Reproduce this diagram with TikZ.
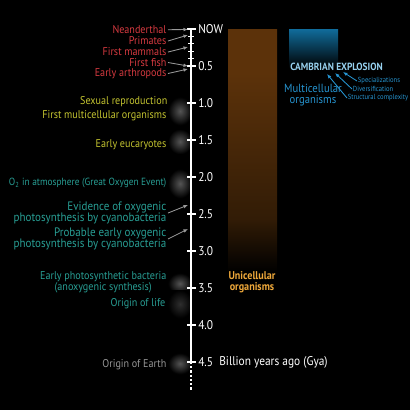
\documentclass[tikz,border=0pt]{standalone}
\usepackage{fontspec}
\setmainfont{PT Sans}[FakeStretch=0.9]
\usepackage{tikz}
\usetikzlibrary{arrows.meta,positioning}
\definecolor{evred}{RGB}{214,58,64}
\definecolor{evyellow}{RGB}{196,196,48}
\definecolor{evteal}{RGB}{40,158,148}
\definecolor{evgray}{RGB}{150,150,150}
\definecolor{evorange}{RGB}{238,168,58}
\definecolor{evbrown}{RGB}{92,50,10}
\definecolor{evbrownlow}{RGB}{50,28,6}
\definecolor{evblue}{RGB}{38,148,208}
\definecolor{evlight}{RGB}{150,208,238}
\definecolor{evdeep}{RGB}{16,108,155}
\pgfdeclareverticalshading{unibar}{100bp}{color(0bp)=(black); color(25bp)=(black); color(36bp)=(evbrownlow); color(66bp)=(evbrown); color(100bp)=(evbrown)}
\tikzset{
  evlab/.style={anchor=east, inner sep=1pt, align=right, font=\fontsize{8}{7.8}\selectfont},
  biglab/.style={evlab, font=\fontsize{8.7}{8.4}\selectfont},
  ticklab/.style={anchor=west, inner sep=0pt, text=white, font=\fontsize{9}{10}\selectfont},
  smalllab/.style={anchor=west, inner sep=0.5pt, text=evblue, font=\fontsize{5.2}{6}\selectfont},
  evarr/.style={-{Latex[length=3.2pt,width=2.6pt]}, draw=gray!80, line width=0.6pt},
  bluearr/.style={-{Latex[length=3.2pt,width=2.6pt]}, draw=evblue, line width=0.6pt},
  smoke/.style={inner color=white!33!black, outer color=black}
}

\begin{document}
\begin{tikzpicture}[x=0.025cm, y=-0.025cm]
\fill[black] (0,0) rectangle (410,410);
% hazy bands beside the time axis
\shade[smoke] (168,97) rectangle (192,125);
\shade[smoke] (168,129) rectangle (192,154);
\shade[smoke] (168,169) rectangle (192,198);
\shade[smoke] (168,273) rectangle (192,294);
\shade[smoke, inner color=white!18!black] (168,290) rectangle (192,318);
\shade[smoke] (168,353) rectangle (192,374);
% life bars
\shade[shading=unibar] (228,29) rectangle (277,272);
\shade[top color=evdeep, bottom color=black] (289,29) rectangle (338,68);

% time axis
\coordinate (now) at (191,29);
\coordinate (gya45) at (191,362);
\coordinate (tail) at (191,390);
\draw[white, line width=1.2pt] (now) -- (gya45);
\draw[white, line width=1.2pt, dash pattern=on 1.6pt off 1.4pt] (gya45) -- (tail);
\foreach \g/\t [count=\i] in {0/NOW,0.5/0.5,1/1.0,1.5/1.5,2/2.0,2.5/2.5,3/3.0,3.5/3.5,4/4.0,4.5/4.5}{
  \draw[white, line width=0.9pt] (187,{29+74*\g}) -- (196,{29+74*\g});
  \node[ticklab] (tk\i) at (198,{29+74*\g}) {\t};
}
\foreach \g in {0.1,0.2,0.3,0.4}
  \draw[white, line width=0.8pt] (188,{29+74*\g}) -- (194,{29+74*\g});
\node[ticklab, right=4pt of tk10] (gyalab) {Billion years ago (Gya)};

% events
\node[evlab, text=evred] (neand) at (168,30) {Neanderthal};
\node[evlab, text=evred] (prim) at (168,41) {Primates};
\node[evlab, text=evred] (mamm) at (168,52) {First mammals};
\node[evlab, text=evred] (fish) at (168,62.5) {First fish};
\node[evlab, text=evred] (arth) at (168,73.5) {Early arthropods};
\node[evlab, text=evyellow] (sexrep) at (169,102) {Sexual reproduction};
\node[evlab, text=evyellow] (multi) at (168,116) {First multicellular organisms};
\node[evlab, text=evyellow] (euk) at (168,145) {Early eucaryotes};
\node[evlab, text=evteal, font=\fontsize{7.4}{7.8}\selectfont] (oxy) at (168,183) {O\textsubscript{2} in atmosphere (Great Oxygen Event)};
\node[biglab, text=evteal] (evid) at (168,213) {Evidence of oxygenic\\photosynthesis by cyanobacteria};
\node[biglab, text=evteal] (prob) at (168,239) {Probable early oxygenic\\photosynthesis by cyanobacteria};
\node[evlab, text=evteal, align=center] (anox) at (168,282) {Early photosynthetic bacteria\\(anoxygenic synthesis)};
\node[evlab, text=evteal] (life) at (167,304) {Origin of life};
\node[evlab, text=evgray] (earth) at (168,365) {Origin of Earth};

\coordinate (aNeand) at (188,29.5);
\coordinate (aPrim) at (188,35);
\coordinate (aMamm) at (188,47);
\coordinate (aFish) at (188,66);
\coordinate (aArth) at (188,69);
\coordinate (aEvid) at (188,205);
\coordinate (aProb) at (188,229);
\draw[evarr] (neand) -- (aNeand);
\draw[evarr] (prim.east) -- (aPrim);
\draw[evarr] (mamm.east) -- (aMamm);
\draw[evarr] (fish.east) -- (aFish);
\draw[evarr] (arth.east) -- (aArth);
\draw[evarr] (evid.east) -- (aEvid);
\draw[evarr] (prob.east) -- (aProb);

% organisms
\node[text=evorange, align=center, inner sep=0pt, font=\bfseries\fontsize{8}{7.8}\selectfont] (unicell) at (252,282) {Unicellular\\organisms};
\node[text=evlight, anchor=west, inner sep=0pt, font=\bfseries\fontsize{7.4}{8}\selectfont] (camb) at (290,67) {CAMBRIAN EXPLOSION};
\node[text=evblue, align=center, inner sep=0pt, font=\fontsize{8.4}{7.8}\selectfont] (multicell) at (313,95.5) {Multicellular\\organisms};
\node[smalllab] (spec) at (357,81) {Specializations};
\node[smalllab] (diver) at (352,89) {Diversification};
\node[smalllab] (struct) at (347,98) {Structural complexity};
\coordinate (aSpec) at (343,72);
\coordinate (aDiver) at (335,73);
\coordinate (aStruct) at (327,74);
\draw[bluearr] (spec.west) -- (aSpec);
\draw[bluearr] (diver.west) -- (aDiver);
\draw[bluearr] (struct.west) -- (aStruct);
\end{tikzpicture}
\end{document}
